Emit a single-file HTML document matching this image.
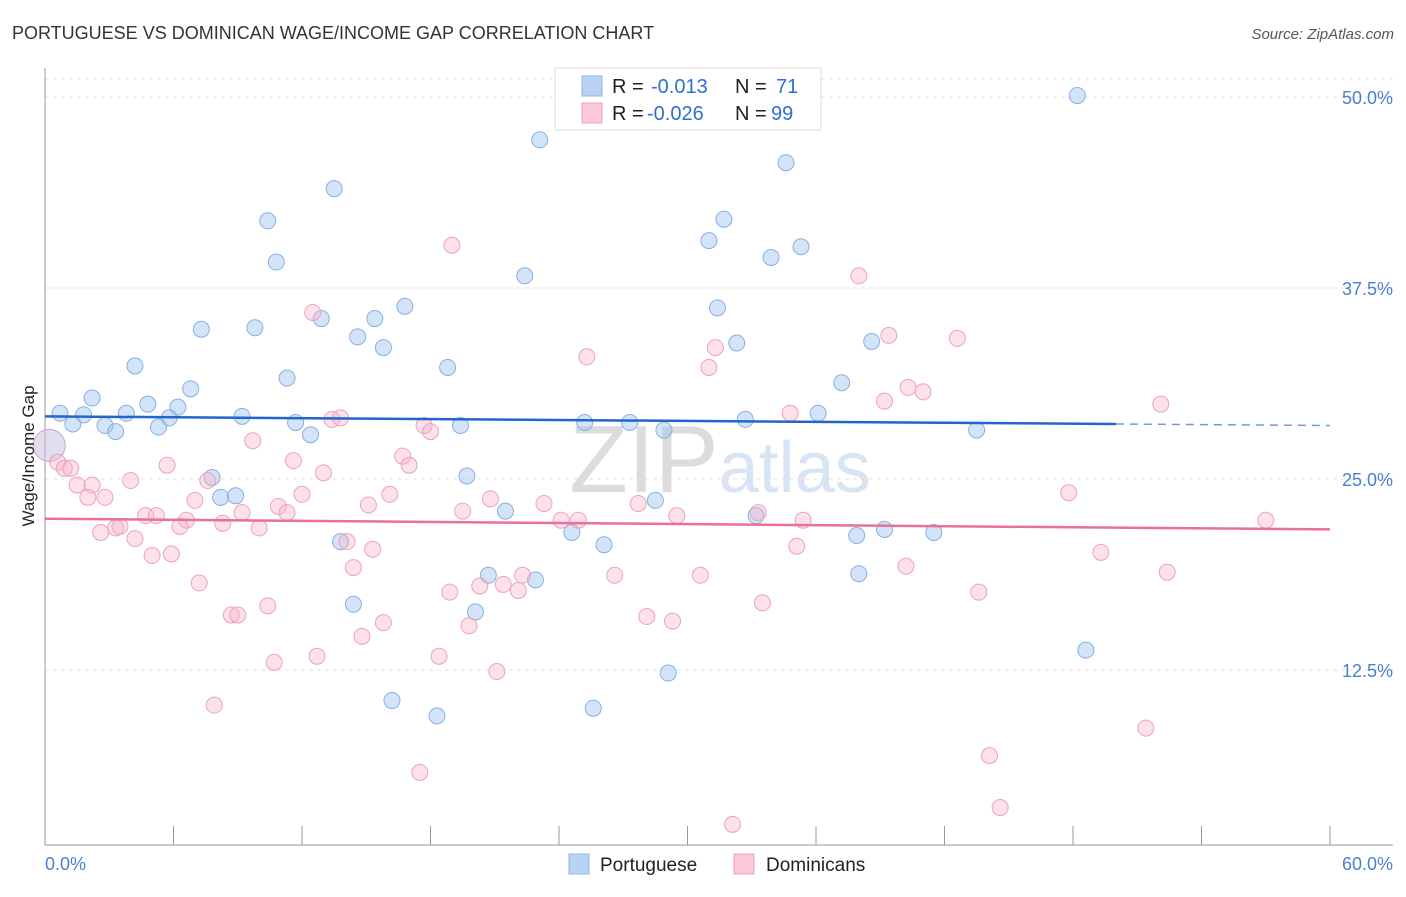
<!DOCTYPE html>
<html><head><meta charset="utf-8">
<style>
body{margin:0;background:#fff;font-family:"Liberation Sans",sans-serif;}
svg text{font-family:"Liberation Sans",sans-serif;}
</style></head>
<body>
<svg id="chart" width="1406" height="892">
<text x="12" y="39" font-size="18" fill="#333">PORTUGUESE VS DOMINICAN WAGE/INCOME GAP CORRELATION CHART</text>
<text x="1394" y="39" font-size="15" fill="#555" font-style="italic" text-anchor="end">Source: ZipAtlas.com</text>
<text x="720" y="492" font-size="96" fill="#e6e6e6" text-anchor="middle" font-family="Liberation Serif"><tspan fill="#dcdcdc">ZIP</tspan><tspan fill="#d6e4f4" font-family="Liberation Sans" font-size="72">atlas</tspan></text>
<g id="grid"></g>
<g id="axes"></g>
<g id="marks"></g>
<text transform="translate(34,456) rotate(-90)" font-size="17" fill="#222" text-anchor="middle">Wage/Income Gap</text>
<text x="45" y="870" font-size="18" fill="#4a7fd0">0.0%</text>
<text x="1393" y="870" font-size="18" fill="#4a7fd0" text-anchor="end">60.0%</text>
<g>
<rect x="555" y="68" width="266" height="62" fill="#fff" stroke="#ddd"/>
<rect x="582" y="76" width="20" height="20" fill="#b9d3f3" stroke="#8fb6e6"/>
<rect x="582" y="103" width="20" height="20" fill="#fac8d6" stroke="#f0a6be"/>
<text x="612" y="93" font-size="20" fill="#222">R =<tspan x="651" fill="#2f6fd0">-0.013</tspan><tspan x="735">N =</tspan><tspan x="776" fill="#2f6fd0">71</tspan></text>
<text x="612" y="120" font-size="20" fill="#222">R =<tspan x="647" fill="#2f6fd0">-0.026</tspan><tspan x="735">N =</tspan><tspan x="771" fill="#2f6fd0">99</tspan></text>
</g>
<g>
<rect x="569" y="854" width="20" height="20" fill="#b9d3f3" stroke="#8fb6e6"/>
<text x="600" y="871" font-size="19" fill="#222">Portuguese</text>
<rect x="734" y="854" width="20" height="20" fill="#fac8d6" stroke="#f0a6be"/>
<text x="766" y="871" font-size="19" fill="#222">Dominicans</text>
</g>
</svg>
<script>
const blueX=[48.2,23.1,34.6,13.5,10.4,31.7,31.0,35.3,33.9,10.8,22.4,16.8,31.4,12.9,15.4,7.3,9.8,14.6,15.8,32.3,38.6,4.2,18.8,11.3,37.2,6.8,2.2,4.8,6.2,0.7,1.8,3.8,5.8,9.2,1.3,2.8,3.3,5.3,11.7,12.4,25.2,27.3,28.9,32.7,36.1,43.5,19.4,7.8,19.7,8.2,8.9,28.5,21.5,33.2,24.6,26.1,13.8,37.9,39.2,41.5,20.7,22.9,38.0,14.4,20.1,29.1,48.6,16.2,18.3,25.6];
const blueY=[50.1,47.2,45.7,44.0,41.9,42.0,40.6,40.2,39.5,39.2,38.3,36.3,36.2,35.5,35.5,34.8,34.9,34.3,33.6,33.9,34.0,32.4,32.3,31.6,31.3,30.9,30.3,29.9,29.7,29.3,29.2,29.3,29.0,29.1,28.6,28.5,28.1,28.4,28.7,27.9,28.7,28.7,28.2,28.9,29.3,28.2,28.5,25.1,25.2,23.8,23.9,23.6,22.9,22.6,21.5,20.7,20.9,21.3,21.7,21.5,18.7,18.4,18.8,16.8,16.3,12.3,13.8,10.5,9.5,10.0];
const pinkX=[19.0,38.0,12.5,25.3,31.3,31.0,39.4,42.6,52.1,40.3,41.0,39.2,34.8,13.4,13.8,17.7,18.0,9.7,16.7,17.0,11.6,13.0,5.7,0.6,0.9,1.2,1.5,2.2,4.0,7.6,2.8,2.0,7.0,12.0,16.1,20.8,23.3,27.7,15.1,10.9,11.3,9.2,19.5,29.5,33.3,4.7,5.2,6.6,8.3,6.3,3.3,3.5,2.6,10.0,24.1,24.9,35.4,47.8,57.0,4.2,14.1,5.0,5.9,15.3,35.1,49.3,14.4,26.6,30.6,40.2,52.4,22.3,20.3,21.4,22.1,18.9,7.2,43.6,10.4,33.5,8.7,9.0,15.8,28.1,29.3,19.8,14.8,18.4,12.7,10.7,21.1,7.9,51.4,44.1,17.5,44.6,32.1];
const pinkY=[40.3,38.3,35.9,33.0,33.6,32.3,34.4,34.2,29.9,31.0,30.7,30.1,29.3,28.9,29.0,28.5,28.1,27.5,26.5,25.9,26.2,25.4,25.9,26.1,25.7,25.7,24.6,24.6,24.9,24.9,23.8,23.8,23.6,24.0,24.0,23.7,23.4,23.4,23.3,23.2,22.8,22.8,22.9,22.6,22.8,22.6,22.6,22.3,22.1,21.9,21.8,21.9,21.5,21.8,22.3,22.3,22.3,24.1,22.3,21.1,20.9,20.0,20.1,20.4,20.6,20.2,19.2,18.7,18.7,19.3,18.9,18.7,18.0,18.1,17.7,17.6,18.2,17.6,16.7,16.9,16.1,16.1,15.6,16.0,15.7,15.4,14.7,13.4,13.4,13.0,12.4,10.2,8.7,6.9,5.8,3.5,2.4];
const yTicks=[12.5,25.0,37.5,50.0];
const xTicks=[6,12,18,24,30,36,42,48,54,60];
const blueTrend=[29.1,28.6,28.5];
const pinkTrend=[22.4,21.7];
const sx=v=>45+v*1285/60;
const sy=v=>861-v*15.28;
const NS='http://www.w3.org/2000/svg';
function mk(parent,tag,attrs){const e=document.createElementNS(NS,tag);for(const k in attrs)e.setAttribute(k,attrs[k]);parent.appendChild(e);return e;}
const grid=document.getElementById('grid'),axes=document.getElementById('axes'),marks=document.getElementById('marks');
const topLine=mk(grid,'line',{x1:45,x2:1393,y1:79,y2:79,stroke:'#e2e2e2','stroke-dasharray':'4,4'});


yTicks.forEach(t=>{
 const l=mk(grid,'line',{x1:45,x2:1393,y1:sy(t),y2:sy(t),stroke:'#e2e2e2','stroke-dasharray':'4,4'});
 
 
 const tx=mk(grid,'text',{x:1393,y:sy(t)+7,'font-size':18,fill:'#4a7fd0','text-anchor':'end'});
 tx.textContent=t.toFixed(1)+'%';
 
 
});
const ya=mk(axes,'line',{x1:45,x2:45,y1:68,y2:845,stroke:'#999'});


const xa=mk(axes,'line',{x1:45,x2:1393,y1:845,y2:845,stroke:'#999'});


xTicks.forEach(t=>{
 const l=mk(axes,'line',{x1:sx(t),x2:sx(t),y1:826,y2:845,stroke:'#999'});
 
 
});
blueX.forEach((x,i)=>{
 const c=mk(marks,'circle',{cx:sx(x),cy:sy(blueY[i]),r:8,fill:'rgba(160,196,240,0.45)',stroke:'#86b0e4','stroke-width':1});
 
 
});
const bigc=mk(marks,'circle',{cx:sx(0.2),cy:sy(27.2),r:16,fill:'rgba(200,190,220,0.5)',stroke:'#c0a8c8'});


pinkX.forEach((x,i)=>{
 const c=mk(marks,'circle',{cx:sx(x),cy:sy(pinkY[i]),r:8,fill:'rgba(248,180,200,0.4)',stroke:'#eea2bb','stroke-width':1});
 
 
});
const bt=mk(marks,'line',{x1:sx(0),y1:sy(blueTrend[0]),x2:sx(50),y2:sy(blueTrend[1]),stroke:'#2266cc','stroke-width':2.5});


const bd=mk(marks,'line',{x1:sx(50),y1:sy(blueTrend[1]),x2:sx(60),y2:sy(blueTrend[2]),stroke:'#6d9bdc','stroke-width':1.5,'stroke-dasharray':'8,6'});


const pt=mk(marks,'line',{x1:sx(0),y1:sy(pinkTrend[0]),x2:sx(60),y2:sy(pinkTrend[1]),stroke:'#e8709a','stroke-width':2.5});


</script>
</body></html>
